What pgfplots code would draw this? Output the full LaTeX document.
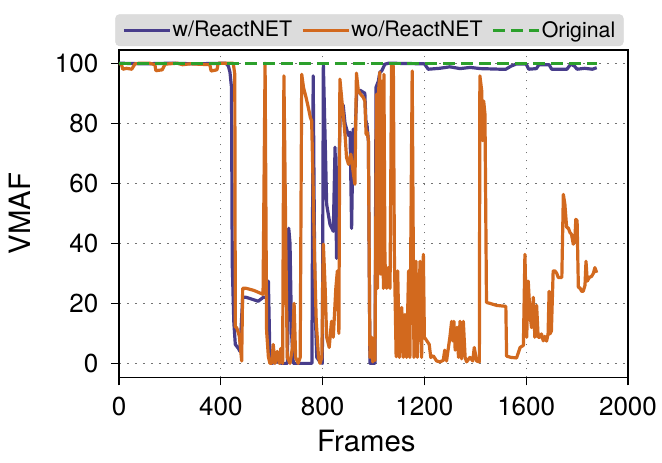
\documentclass[border=0pt]{standalone}
\usepackage{fontspec}
\setmainfont{TeX Gyre Heros}
\usepackage{pgfplots}
\pgfplotsset{compat=1.18}
\definecolor{cblue}{HTML}{483D8B}
\definecolor{corange}{HTML}{D2691E}
\definecolor{cgreen}{HTML}{2CA02C}
\definecolor{legfill}{HTML}{DCDCDC}
\newcommand{\tickfont}{\fontsize{19.5}{24}\selectfont}
\newcommand{\labfont}{\fontsize{22}{26}\selectfont}
\newcommand{\legfont}{\fontsize{16}{19}\selectfont}
\begin{document}
\begin{tikzpicture}[font=\tickfont]
\begin{axis}[
  scale only axis,
  width=381.75pt, height=245.6pt,
  xmin=0, xmax=2000, ymin=-4.7, ymax=104.4,
  xtick={0,400,800,1200,1600,2000},
  ytick={0,20,40,60,80,100},
  /pgf/number format/assume math mode=true,
  /pgf/number format/1000 sep={},
  tick align=outside, major tick length=6pt,
  tick style={black, line width=0.9pt},
  xtick pos=bottom, ytick pos=left,
  axis line style={black, line width=0.9pt},
  grid=major,
  major grid style={black!55, line width=0.9pt, dash pattern=on 1.4pt off 4.6pt},
  tick label style={font=\tickfont},
  xticklabel style={yshift=-5pt},
  yticklabel style={xshift=-6pt},
  xlabel={Frames}, ylabel={VMAF},
  xlabel style={font=\labfont, at={(axis description cs:0.486,-0.194)}, anchor=center},
  ylabel style={font=\labfont, at={(axis description cs:-0.195,0.5)}, anchor=center, rotate=0},
  legend columns=-1,
  legend image code/.code={\draw[#1] (0pt,0pt) -- (34.5pt,0pt);},
  legend style={at={(0.492,1.012)}, anchor=south, fill=legfill, draw=black!15,
    rounded corners=3pt, font=\legfont, inner xsep=5pt, inner ysep=3pt,
    nodes={inner xsep=1pt},
    /tikz/every even column/.append style={column sep=5.5pt}},
]
\addplot[cblue, line width=2.4pt, line join=round] coordinates {
(0,100) (100,99.8) (200,100) (300,99.8) (420,100) (430,99) (436,97) (442,92) (445,33) (451,14) (457,6.3) (469,5) (475,4) (486,22) (500,22) (547,20.7) (567,22) (580,22) (587,27.4) (593,2) (600,0) (620,0.5) (640,0) (662,0) (667,45) (672,40) (678,10) (685,0) (700,0) (740,0) (758,0) (763,95.8) (770,20) (777,2) (790,0.5) (799,0) (803,99.7) (816,53) (829,46.3) (842,44) (849,72) (855,35) (862,60) (870,85) (881,86) (888,80) (901,76) (908,77) (914,45) (920,78) (927,75) (934,90) (947,91) (966,90) (970,81) (975,79) (980,74) (984,25) (986,0) (1006,0) (1010,92) (1019,94) (1025,97) (1032,97.4) (1045,99.7) (1060,100) (1200,99.8) (1215,98) (1260,98.3) (1300,98.8) (1340,98.2) (1380,98.6) (1420,98.2) (1500,98) (1520,98) (1540,99) (1560,99.7) (1600,99.7) (1610,98) (1640,98.2) (1650,99.5) (1690,99.5) (1700,98) (1760,98) (1775,99.7) (1790,99) (1800,98) (1830,98.3) (1860,98) (1877,98.5)
};
\addlegendentry{w/ReactNET}
\addplot[corange, line width=2.4pt, line join=round] coordinates {
(0,100) (10,99.5) (15,98) (30,98.3) (50,98) (63,99.8) (80,100) (120,100) (141,99.5) (145,97.5) (170,97.8) (181,99.7) (230,100) (250,99.5) (280,99.8) (357,99.5) (362,97.4) (385,97.8) (390,100) (449,100) (455,96.3) (457,12) (462,12) (473,9) (482,0.8) (486,25) (500,25) (530,24.3) (566,23) (574,100) (580,10.8) (587,2.2) (593,0) (600,0) (606,6.3) (613,0) (622,4) (630,0) (636,5) (643,0) (648,95.8) (656,36.3) (661,2) (672,0) (681,5) (688,20) (694,2) (704,0) (712,2) (718,96.3) (725,91.9) (735,88.6) (744,85.2) (752,81.9) (757,80.8) (763,58.6) (768,36.3) (775,14) (784,2) (790,0) (797,2) (803,39.7) (810,25.2) (816,8.7) (826,5.3) (835,14) (842,8.7) (852,25) (858,30.8) (864,10) (868,94.7) (876,87.4) (881,83) (889,75.2) (894,68.6) (902,66.3) (911,69.7) (918,65) (927,59.7) (933,96.7) (940,91) (949,89.7) (960,88.6) (966,87.4) (971,76.3) (976,77) (980,74.2) (984,25) (986,2) (993,8.7) (997,0.5) (1002,3) (1006,1) (1012,89.7) (1016,25) (1021,92) (1025,97) (1029,29.7) (1033,94) (1039,25) (1041,96.3) (1045,34) (1052,25) (1058,31.9) (1065,25) (1071,99.7) (1078,99) (1082,36.3) (1089,2.2) (1095,30.8) (1102,2) (1111,18.6) (1117,2) (1124,16.3) (1130,2) (1138,30.8) (1143,2) (1152,97.4) (1159,2) (1167,34) (1172,2) (1183,34) (1189,2) (1196,36.3) (1200,8.7) (1209,7.6) (1219,6.3) (1225,2) (1235,2.5) (1248,0.8) (1261,0.5) (1274,1) (1280,4.4) (1287,0.8) (1300,8.6) (1307,14) (1311,7.5) (1316,14) (1321,4.4) (1328,12) (1334,2) (1340,14) (1346,1.5) (1353,14) (1360,2) (1366,0.5) (1379,2) (1390,0.8) (1396,5.3) (1405,0.8) (1416,0.5) (1418,95.8) (1425,91) (1429,74.2) (1433,87.4) (1438,83) (1444,20.3) (1457,20) (1484,19.3) (1520,19) (1523,2.4) (1540,2) (1562,1.8) (1569,3.5) (1576,5.3) (1589,6) (1595,36.3) (1602,8.7) (1608,27.4) (1615,16.3) (1621,11.9) (1628,22) (1634,8.7) (1641,19.3) (1647,8.7) (1654,8.7) (1660,9.8) (1667,7.5) (1673,9) (1680,7.4) (1686,9.8) (1690,24) (1693,9.8) (1699,10.8) (1706,30.8) (1713,30.8) (1720,30) (1726,28.6) (1740,28.6) (1746,56.3) (1752,53) (1759,45.2) (1765,45.2) (1772,43.6) (1778,43) (1785,39.7) (1791,41) (1795,48) (1800,47.5) (1805,25.2) (1811,25.2) (1818,24) (1824,24) (1831,26) (1835,34) (1840,27.4) (1848,28.6) (1857,29) (1864,30) (1870,31.9) (1877,30.2)
};
\addlegendentry{wo/ReactNET}
\addplot[cgreen, line width=2.4pt, dash pattern=on 9pt off 4.5pt] coordinates {(0,100) (1877,100)};
\addlegendentry{Original}
\coordinate (sw) at (rel axis cs:0,0);
\end{axis}
\pgfresetboundingbox
\path[use as bounding box] (sw) ++(-89.25pt,-63.4pt) rectangle ++(496.5pt,346.5pt);
\end{tikzpicture}
\end{document}
